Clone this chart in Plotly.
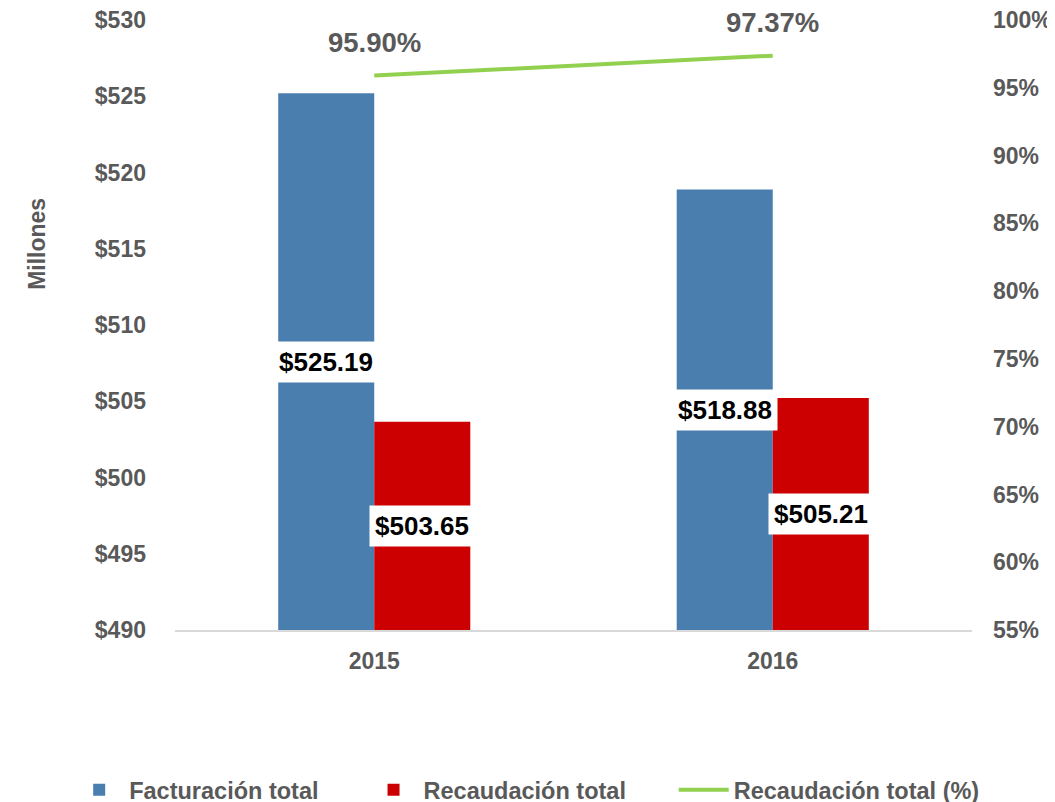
import plotly.graph_objects as go

years = ["2015", "2016"]
facturacion = [525.19, 518.88]
recaudacion = [503.65, 505.21]
recaudacion_pct = [0.9590, 0.9737]

y_min, y_max = 490, 530
p_min, p_max = 0.55, 1.00

BLUE = "#4A7EAF"
RED = "#CC0000"
GREEN = "#92D050"
GRAY = "#595959"
FONT = "Liberation Sans, Arial, sans-serif"

fig = go.Figure()
fig.add_trace(go.Bar(x=years, y=facturacion, name="<b>Facturación total</b>",
                     marker=dict(color=BLUE, line=dict(width=0)), base=0, legend="legend"))
fig.add_trace(go.Bar(x=years, y=recaudacion, name="<b>Recaudación total</b>",
                     marker=dict(color=RED, line=dict(width=0)), base=0, legend="legend2"))
fig.add_trace(go.Scatter(x=years, y=recaudacion_pct, name="<b>Recaudación total (%)</b>",
                         mode="lines", line=dict(color=GREEN, width=4), yaxis="y2",
                         legend="legend3"))

ann = []
half = 48
for i, yr in enumerate(years):
    for vals, shift in ((facturacion, -half), (recaudacion, half)):
        v = vals[i]
        ann.append(dict(x=i, y=(y_min + v) / 2, xref="x", yref="y", xshift=shift,
                        text=f"<b>${v:.2f}</b>", showarrow=False,
                        font=dict(family=FONT, size=26, color="black"),
                        bgcolor="white", borderpad=5))
    ann.append(dict(x=i, y=recaudacion_pct[i], xref="x", yref="y2", yshift=33,
                    text=f"<b>{recaudacion_pct[i]*100:.2f}%</b>", showarrow=False,
                    font=dict(family=FONT, size=27.5, color=GRAY)))
ann.append(dict(x=-0.192, y=0.633, xref="paper", yref="paper", text="<b>Millones</b>",
                textangle=-90, showarrow=False, font=dict(family=FONT, size=23, color=GRAY)))

def leg(x):
    return dict(orientation="h", xref="container", yref="container",
                x=x, xanchor="left", y=0.025, yanchor="middle",
                font=dict(family=FONT, size=23.5, color=GRAY), itemwidth=50,
                bgcolor="rgba(0,0,0,0)")

fig.update_layout(
    width=1055, height=802,
    margin=dict(l=167, r=91, t=12, b=180, autoexpand=False),
    paper_bgcolor="white", plot_bgcolor="white",
    barmode="group", bargap=0.518, bargroupgap=0,
    font=dict(family=FONT, color=GRAY),
    showlegend=True,
    legend=leg(0.058), legend2=leg(0.337), legend3=leg(0.631),
    annotations=ann,
    xaxis=dict(type="category", range=[-0.5, 1.5], autorange=False, showgrid=False,
               showline=True, linecolor="#D9D9D9", linewidth=1.5, automargin=False,
               tickfont=dict(family=FONT, size=23, color=GRAY),
               ticklabelstandoff=10, tickprefix="<b>", ticksuffix="</b>"),
    yaxis=dict(range=[y_min, y_max], dtick=5, showgrid=False, zeroline=False,
               automargin=False, tickprefix="<b>$", ticksuffix="</b>",
               ticklabeloverflow="allow",
               tickfont=dict(family=FONT, size=23, color=GRAY), ticklabelstandoff=28),
    yaxis2=dict(range=[p_min, p_max], dtick=0.05, tickformat=".0%", overlaying="y",
                side="right", showgrid=False, zeroline=False, automargin=False,
                tickprefix="<b>", ticksuffix="</b>", ticklabeloverflow="allow",
                tickfont=dict(family=FONT, size=23, color=GRAY), ticklabelstandoff=20),
)

fig.write_html("out.html")
